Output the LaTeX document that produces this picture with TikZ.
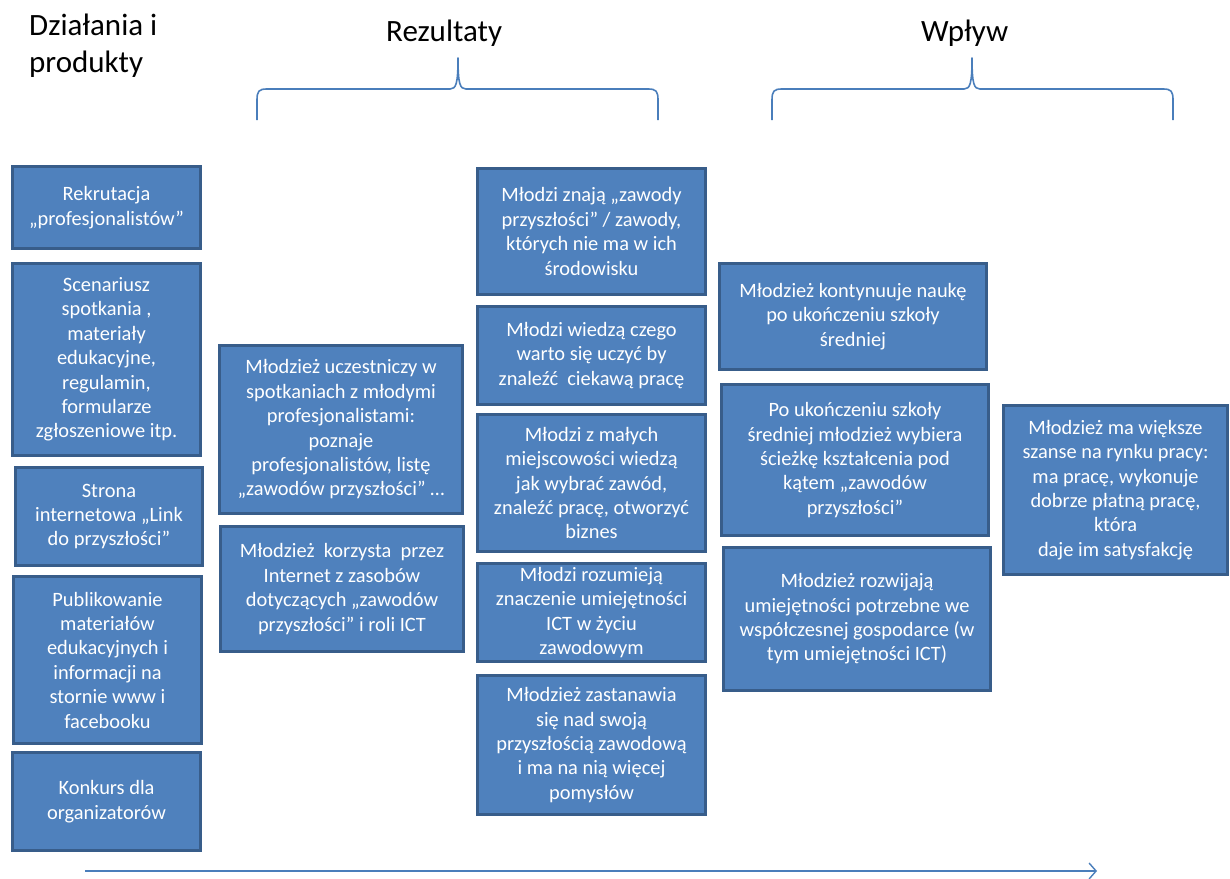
\documentclass[tikz,border=0pt]{standalone}
\usepackage{fontspec}
\setmainfont{Carlito}
\usetikzlibrary{arrows.meta}
\definecolor{boxfill}{HTML}{4F81BD}
\definecolor{boxline}{HTML}{385D8A}
\definecolor{lineblue}{HTML}{4A7EBB}
\tikzset{
  box/.style={draw=boxline, fill=boxfill, line width=2.8pt, text=white, align=center,
    inner sep=0pt, font=\fontsize{20.4}{24.4}\selectfont},
  title/.style={anchor=base west, inner sep=0pt, align=left, font=\fontsize{31}{37}\selectfont},
  brace/.style={draw=lineblue, line width=1.6pt, line join=round},
  flow/.style={draw=lineblue, line width=1.6pt, -{Straight Barb[length=7pt,width=16pt,line width=1.4pt]}}
}
\newcommand\mybox[6]{\node[box, minimum width={#4-#2-2.8}, minimum height={#5-#3-2.8}] (#1) at ({(#2+#4)/2},{(#3+#5)/2}) {#6};}
\begin{document}
\begin{tikzpicture}[x=1pt,y=-1pt]
\useasboundingbox (0,0) rectangle (1230,878);
% titles
\node[title] (t1) at (29,72) {Działania i\\produkty};
\node[title] (t2) at (386,41) {Rezultaty};
\node[title] (t3) at (921,41) {Wpływ};
% braces
\draw[brace] (257,120) -- (257,100) .. controls (257,91) and (259,89) .. (267,89) -- (450,89)
  .. controls (456,89) and (458,84) .. (458,58) .. controls (458,84) and (460,89) .. (466,89)
  -- (648,89) .. controls (656,89) and (658,91) .. (658,100) -- (658,120);
\draw[brace] (772,120) -- (772,100) .. controls (772,91) and (774,89) .. (782,89) -- (964,89)
  .. controls (970,89) and (972,84) .. (972,58) .. controls (972,84) and (974,89) .. (980,89)
  -- (1163,89) .. controls (1171,89) and (1173,91) .. (1173,100) -- (1173,120);
% column 1
\mybox{L1}{11}{165}{202}{250}{Rekrutacja\\„profesjonalistów”}
\mybox{L2}{11}{262}{202}{457}{Scenariusz\\spotkania ,\\materiały\\edukacyjne,\\regulamin,\\formularze\\zgłoszeniowe itp.}
\mybox{L3}{14}{466}{204}{567}{Strona\\internetowa „Link\\do przyszłości”}
\mybox{L4}{12}{575}{203}{745}{Publikowanie\\materiałów\\edukacyjnych i\\informacji na\\stornie www i\\facebooku}
\mybox{L5}{11}{751}{202}{852}{Konkurs dla\\organizatorów}
% column 2
\mybox{M1}{218}{344}{464}{515}{Młodzież uczestniczy w\\spotkaniach z młodymi\\profesjonalistami:\\poznaje\\profesjonalistów, listę\\„zawodów przyszłości” …}
\mybox{M2}{219}{525}{465}{653}{Młodzież~ korzysta~ przez\\Internet z zasobów\\dotyczących „zawodów\\przyszłości” i roli ICT}
% column 3
\mybox{R1}{476}{167}{707}{296}{Młodzi znają „zawody\\przyszłości” / zawody,\\których nie ma w ich\\środowisku}
\mybox{R2}{476}{305}{707}{406}{Młodzi wiedzą czego\\warto się uczyć by\\znaleźć~ ciekawą pracę}
\mybox{R3}{476}{413}{707}{553}{Młodzi z małych\\miejscowości wiedzą\\jak wybrać zawód,\\znaleźć pracę, otworzyć\\biznes}
\mybox{R4}{476}{562}{707}{663}{Młodzi rozumieją\\znaczenie umiejętności\\ICT w życiu\\zawodowym}
\mybox{R5}{476}{674}{707}{816}{Młodzież zastanawia\\się nad swoją\\przyszłością zawodową\\i ma na nią więcej\\pomysłów}
% column 4
\mybox{W1}{718}{262}{988}{371}{Młodzież kontynuuje naukę\\po ukończeniu szkoły\\średniej}
\mybox{W2}{720}{383}{990}{537}{Po ukończeniu szkoły\\średniej młodzież wybiera\\ścieżkę kształcenia pod\\kątem „zawodów\\przyszłości”}
\mybox{W3}{722}{546}{992}{692}{Młodzież rozwijają\\umiejętności potrzebne we\\współczesnej gospodarce (w\\tym umiejętności ICT)}
% column 5
\mybox{F1}{1002}{404}{1229}{576}{Młodzież ma większe\\szanse na rynku pracy:\\ma pracę, wykonuje\\dobrze płatną pracę,\\która\\daje im satysfakcję}
% bottom arrow
\coordinate (a1) at (85,871);
\coordinate (a2) at (1097,871);
\draw[flow] (a1) -- (a2);
\end{tikzpicture}
\end{document}
